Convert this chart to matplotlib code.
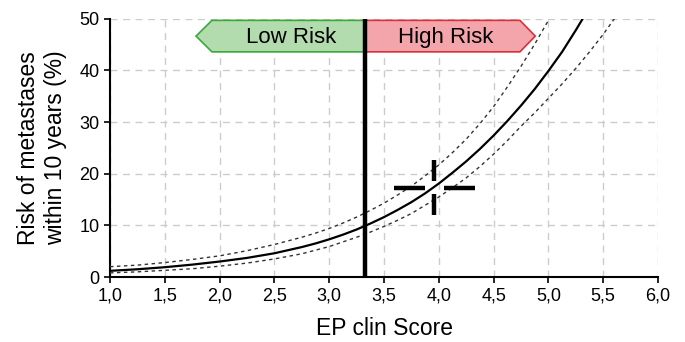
import matplotlib.pyplot as plt
from matplotlib.patches import Polygon
from matplotlib.ticker import FuncFormatter

plt.rcParams["font.family"] = ["Liberation Sans", "DejaVu Sans"]

# risk curve and confidence band
score = [1.0, 1.125, 1.25, 1.375, 1.5, 1.625, 1.75, 1.875, 2.0, 2.125,
         2.25, 2.375, 2.5, 2.625, 2.75, 2.875, 3.0, 3.125, 3.25, 3.375,
         3.5, 3.625, 3.75, 3.875, 4.0, 4.125, 4.25, 4.375, 4.5, 4.625,
         4.75, 4.875, 5.0, 5.125, 5.25, 5.375, 5.5, 5.625, 5.75]
risk = [1.2, 1.35, 1.5, 1.7, 1.9, 2.15, 2.4, 2.7, 3.0, 3.35,
        3.7, 4.15, 4.6, 5.2, 5.8, 6.5, 7.3, 8.2, 9.2, 10.35,
        11.6, 13.0, 14.5, 16.2, 18.1, 20.2, 22.4, 24.8, 27.4, 30.2,
        33.2, 36.4, 39.9, 43.6, 47.8, 52.2, 57.0, 62.0, 67.0]
risk_upper = [2.0, 2.15, 2.3, 2.55, 2.8, 3.1, 3.4, 3.75, 4.1, 4.6,
              5.1, 5.7, 6.3, 7.0, 7.7, 8.5, 9.4, 10.45, 11.6, 12.9,
              14.3, 15.9, 17.6, 19.6, 21.7, 24.1, 26.7, 29.7, 33.0, 36.8,
              40.8, 45.1, 49.7, 54.5, 59.5, 64.0, 68.0, 72.0, 76.0]
risk_lower = [0.8, 0.9, 1.0, 1.15, 1.3, 1.45, 1.6, 1.85, 2.1, 2.4,
              2.7, 3.1, 3.5, 4.0, 4.5, 5.2, 5.9, 6.8, 7.7, 8.7,
              9.8, 11.0, 12.3, 13.9, 15.5, 17.3, 19.2, 21.4, 23.8, 26.4,
              29.2, 31.8, 34.6, 37.4, 40.4, 43.6, 47.0, 50.7, 54.6]

cutoff = 3.33
patient = (3.96, 17.3)

fig = plt.figure(figsize=(6.85, 3.42), dpi=100)
ax = fig.add_axes([0.1606, 0.19, 0.80, 0.755])

ax.plot(score, risk, color="black", lw=1.6, zorder=3)
ax.plot(score, risk_upper, color="#333333", lw=1.0, ls=(0, (2.5, 2.5)), zorder=3)
ax.plot(score, risk_lower, color="#333333", lw=1.0, ls=(0, (2.5, 2.5)), zorder=3)

# cut-off line
ax.axvline(cutoff, color="black", lw=3.2, zorder=4)

# patient crosshair
px, py = patient
ax.plot([px - 0.37, px - 0.09], [py, py], color="black", lw=3.2, solid_capstyle="butt", zorder=5)
ax.plot([px + 0.09, px + 0.37], [py, py], color="black", lw=3.2, solid_capstyle="butt", zorder=5)
ax.plot([px, px], [py + 1.3, py + 5.3], color="black", lw=3.2, solid_capstyle="butt", zorder=5)
ax.plot([px, px], [py - 1.3, py - 5.3], color="black", lw=3.2, solid_capstyle="butt", zorder=5)

# risk arrows
top, bot = 49.7, 43.6
mid = (top + bot) / 2
low = Polygon([(cutoff, top), (1.93, top), (1.785, mid), (1.93, bot), (cutoff, bot)],
              closed=True, facecolor="#b3dcae", edgecolor="#3aa83a", lw=1.2, zorder=2)
high = Polygon([(cutoff, top), (4.74, top), (4.88, mid), (4.74, bot), (cutoff, bot)],
               closed=True, facecolor="#f4a5ab", edgecolor="#d6323c", lw=1.2, zorder=2)
ax.add_patch(low)
ax.add_patch(high)
ax.text((1.93 + cutoff) / 2 + 0.02, mid - 0.2, "Low Risk", ha="center", va="center", fontsize=16, zorder=3)
ax.text((cutoff + 4.74) / 2 + 0.03, mid - 0.2, "High Risk", ha="center", va="center", fontsize=16, zorder=3)

ax.set_xlim(1.0, 6.0)
ax.set_ylim(0, 50)
ax.set_xticks([1.0, 1.5, 2.0, 2.5, 3.0, 3.5, 4.0, 4.5, 5.0, 5.5, 6.0])
ax.set_yticks([0, 10, 20, 30, 40, 50])
ax.xaxis.set_major_formatter(FuncFormatter(lambda v, p: f"{v:.1f}".replace(".", ",")))
ax.tick_params(labelsize=13, length=4, width=1.2, colors="black")

ax.grid(True, color="#cccccc", ls=(0, (5, 4)), lw=1.0, zorder=0)
ax.set_axisbelow(True)
for s in ["top", "right"]:
    ax.spines[s].set_visible(False)
for s in ["left", "bottom"]:
    ax.spines[s].set_linewidth(1.5)

ax.set_xlabel("EP clin Score", fontsize=16.5, labelpad=9)
ax.set_ylabel("Risk of metastases\nwithin 10 years (%)", fontsize=16.5, labelpad=9)

fig.savefig("out.png", dpi=100)
